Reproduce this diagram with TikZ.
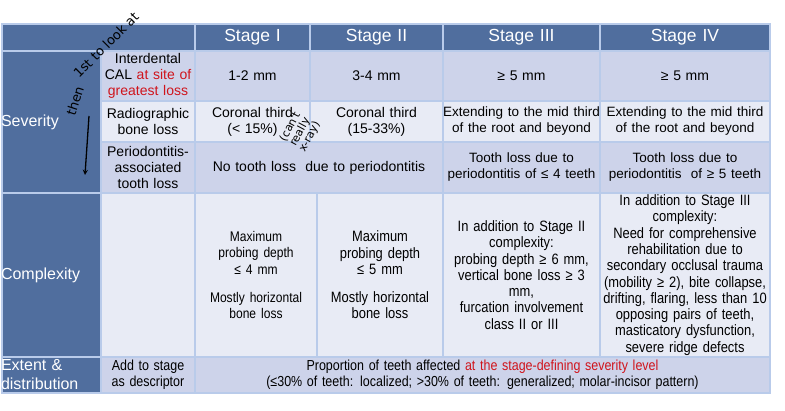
\documentclass[tikz,border=0pt]{standalone}
\usepackage{fontspec}
\setmainfont{Liberation Sans}
\newfontfamily\narrow[FakeStretch=0.86]{Liberation Sans}
\newfontfamily\hand{DejaVu Sans}
\definecolor{hdr}{HTML}{506E9E}
\definecolor{lav}{HTML}{CDD3EA}
\definecolor{pale}{HTML}{E8EBF5}
\definecolor{grid}{HTML}{B9CBEA}
\definecolor{redt}{HTML}{D0141C}
\hyphenpenalty=10000 \exhyphenpenalty=10000
\newcommand{\mycell}[7]{%
  \pgfmathsetmacro\cw{#4-#2}%
  \pgfmathsetmacro\cx{(#2+#4)/2}\pgfmathsetmacro\cy{(#3+#5)/2}%
  \path[#6] (#2,#3) rectangle (#4,#5);
  \node[#6, draw=none, fill=none, text width=\cw pt+6pt] (#1) at (\cx,\cy) {#7};}
\tikzset{
  base/.style={draw=grid, line width=1.2pt, inner sep=0pt, align=center, font=\fontsize{14}{16}\selectfont, text=black},
  hcell/.style={base, fill=hdr, text=white, font=\fontsize{17.5}{19}\selectfont},
  lcell/.style={base, fill=hdr, text=white, align=left, font=\fontsize{16}{19}\selectfont},
  lav/.style={base, fill=lav},
  pale/.style={base, fill=pale},
  cx/.style={base, fill=pale, font=\narrow\fontsize{15}{16.3}\selectfont},
  hw/.style={font=\hand\fontsize{13}{13}\selectfont, inner sep=0pt}
}
\begin{document}
\begin{tikzpicture}[x=1pt,y=-1pt]
\useasboundingbox (0,0) rectangle (785,411);
\fill[white] (0,0) rectangle (785,411);
% header
\mycell{h0}{2}{24}{195}{51}{hcell}{}
\mycell{h1}{195}{24}{310}{51}{hcell}{Stage I}
\mycell{h2}{310}{24}{443}{51}{hcell}{Stage II}
\mycell{h3}{443}{24}{600}{51}{hcell}{Stage III}
\mycell{h4}{600}{24}{770}{51}{hcell}{Stage IV}
% severity
\mycell{sev}{2}{51}{101}{193}{lcell}{\hspace*{2pt}Severity}
\mycell{r1a}{101}{51}{195}{101}{lav}{Interdental\\CAL \textcolor{redt}{at site of\\greatest loss}}
\mycell{r1b}{195}{51}{310}{101}{lav}{1-2 mm}
\mycell{r1c}{310}{51}{443}{101}{lav}{3-4 mm}
\mycell{r1d}{443}{51}{600}{101}{lav}{≥ 5 mm}
\mycell{r1e}{600}{51}{770}{101}{lav}{≥ 5 mm}
\mycell{r2a}{101}{101}{195}{142}{pale}{Radiographic\\bone loss}
\mycell{r2b}{195}{101}{310}{142}{pale}{Coronal third\\(< 15\%)}
\mycell{r2c}{310}{101}{443}{142}{pale}{Coronal third\\(15-33\%)}
\mycell{r2d}{443}{101}{600}{142}{pale}{\fontsize{13.5}{16}\selectfont Extending to the mid third\\of the root and beyond}
\mycell{r2e}{600}{101}{770}{142}{pale}{\fontsize{13.5}{16}\selectfont Extending to the mid third\\of the root and beyond}
\mycell{r3a}{101}{142}{195}{193}{lav}{Periodontitis-\\associated\\tooth loss}
\mycell{r3b}{195}{142}{443}{193}{lav}{No tooth loss\ \ due to periodontitis}
\mycell{r3d}{443}{142}{600}{193}{lav}{\fontsize{13.5}{16}\selectfont Tooth loss due to\\periodontitis of ≤ 4 teeth}
\mycell{r3e}{600}{142}{770}{193}{lav}{\fontsize{13.5}{16}\selectfont Tooth loss due to\\periodontitis\ \ of ≥ 5 teeth}
% complexity
\mycell{cpx}{2}{193}{101}{357}{lcell}{\hspace*{2pt}Complexity}
\mycell{c1}{101}{193}{195}{357}{cx}{}
\mycell{c2}{195}{193}{317}{357}{cx}{\fontsize{14}{16.3}\selectfont Maximum\\probing depth\\≤ 4 mm\\[12pt]Mostly horizontal\\bone loss}
\mycell{c3}{317}{193}{443}{357}{cx}{Maximum\\probing depth\\≤ 5 mm\\[12pt]Mostly horizontal\\bone loss}
\mycell{c4}{443}{193}{600}{357}{cx}{In addition to Stage II\\complexity:\\probing depth ≥ 6 mm,\\vertical bone loss ≥ 3\\mm,\\furcation involvement\\class II or III}
\mycell{c5}{600}{193}{770}{357}{cx}{In addition to Stage III\\complexity:\\Need for comprehensive\\rehabilitation due to\\secondary occlusal trauma\\(mobility ≥ 2), bite collapse,\\drifting, flaring, less than 10\\opposing pairs of teeth,\\masticatory dysfunction,\\severe ridge defects}
% extent
\mycell{ext}{2}{357}{101}{393}{lcell}{\hspace*{2pt}Extent \&\\\hspace*{2pt}distribution}
\mycell{e1}{101}{357}{195}{393}{lav}{\narrow\fontsize{14.5}{15.5}\selectfont Add to stage\\as descriptor}
\mycell{e2}{195}{357}{770}{393}{lav}{\narrow\fontsize{14.5}{15.5}\selectfont Proportion of teeth affected \textcolor{redt}{at the stage-defining severity level}\\(≤30\% of teeth: localized; >30\% of teeth: generalized; molar-incisor pattern)}
% handwriting
\node[hw, rotate=45] (n1) at (106,45) {1st to look at};
\node[hw, rotate=72] (n2) at (75,101) {then};
\coordinate (a1) at (89,116);
\coordinate (a2) at (85,175);
\draw[line width=1.3pt, ->, >=stealth] (a1) -- (a2);
\node[hw, rotate=62, align=center, font=\hand\fontsize{11}{11}\selectfont] (n3) at (300,132) {(can't\\really\\x-ray)};
\end{tikzpicture}
\end{document}
